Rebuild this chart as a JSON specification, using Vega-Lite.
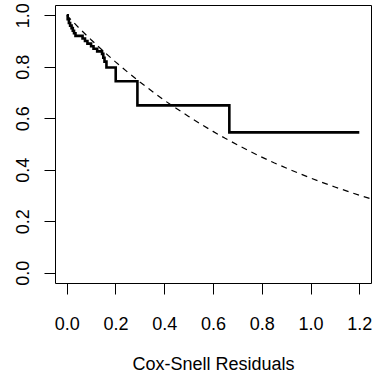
{
  "$schema": "https://vega.github.io/schema/vega-lite/v6.json",
  "width": 316,
  "height": 278,
  "autosize": "none",
  "padding": {"left": 55, "top": 5, "right": 4, "bottom": 95},
  "background": "white",
  "config": {
    "view": {"stroke": "black", "strokeWidth": 1},
    "font": "Liberation Sans",
    "axis": {
      "grid": false,
      "domain": false,
      "tickColor": "black",
      "tickWidth": 1,
      "tickSize": 11,
      "labelColor": "black",
      "labelFont": "Liberation Sans",
      "labelFontSize": 18,
      "titleFont": "Liberation Sans",
      "titleFontSize": 18,
      "titleFontWeight": "normal",
      "titleColor": "black"
    }
  },
  "datasets": {
    "km": [
      {"t": 0, "s": 1.0},
      {"t": 0.004, "s": 0.985},
      {"t": 0.009, "s": 0.97},
      {"t": 0.014, "s": 0.96},
      {"t": 0.02, "s": 0.95},
      {"t": 0.025, "s": 0.94},
      {"t": 0.03, "s": 0.93},
      {"t": 0.036, "s": 0.92},
      {"t": 0.065, "s": 0.91},
      {"t": 0.075, "s": 0.9},
      {"t": 0.085, "s": 0.89},
      {"t": 0.1, "s": 0.88},
      {"t": 0.11, "s": 0.87},
      {"t": 0.125, "s": 0.86},
      {"t": 0.145, "s": 0.85},
      {"t": 0.15, "s": 0.835},
      {"t": 0.155, "s": 0.82},
      {"t": 0.163, "s": 0.797},
      {"t": 0.201, "s": 0.744},
      {"t": 0.29, "s": 0.65},
      {"t": 0.667, "s": 0.545},
      {"t": 1.2, "s": 0.545}
    ],
    "ref": [
      {"t": 0, "s": 1.0},
      {"t": 0.05, "s": 0.951},
      {"t": 0.1, "s": 0.905},
      {"t": 0.15, "s": 0.861},
      {"t": 0.2, "s": 0.819},
      {"t": 0.25, "s": 0.779},
      {"t": 0.3, "s": 0.741},
      {"t": 0.35, "s": 0.705},
      {"t": 0.4, "s": 0.670},
      {"t": 0.45, "s": 0.638},
      {"t": 0.5, "s": 0.607},
      {"t": 0.55, "s": 0.577},
      {"t": 0.6, "s": 0.549},
      {"t": 0.65, "s": 0.522},
      {"t": 0.7, "s": 0.497},
      {"t": 0.75, "s": 0.472},
      {"t": 0.8, "s": 0.449},
      {"t": 0.85, "s": 0.427},
      {"t": 0.9, "s": 0.407},
      {"t": 0.95, "s": 0.387},
      {"t": 1.0, "s": 0.368},
      {"t": 1.05, "s": 0.350},
      {"t": 1.1, "s": 0.333},
      {"t": 1.15, "s": 0.317},
      {"t": 1.2, "s": 0.301},
      {"t": 1.248, "s": 0.287}
    ]
  },
  "layer": [
    {
      "data": {"name": "ref"},
      "mark": {"type": "line", "color": "black", "strokeWidth": 1.2, "strokeDash": [6, 5], "clip": true},
      "encoding": {
        "x": {
          "field": "t", "type": "quantitative",
          "scale": {"domain": [-0.048, 1.248], "nice": false, "zero": false},
          "axis": {"values": [0, 0.2, 0.4, 0.6, 0.8, 1.0, 1.2], "format": ".1f", "labelPadding": 21, "labelBaseline": "top", "labelAlign": "center", "title": "Cox-Snell Residuals", "titlePadding": 22}
        },
        "y": {
          "field": "s", "type": "quantitative",
          "scale": {"domain": [-0.04, 1.04], "nice": false, "zero": false},
          "axis": {"values": [0, 0.2, 0.4, 0.6, 0.8, 1.0], "format": ".1f", "labelAngle": -90, "labelAlign": "center", "labelBaseline": "alphabetic", "labelPadding": 16, "title": null}
        }
      }
    },
    {
      "data": {"name": "km"},
      "mark": {"type": "line", "color": "black", "strokeWidth": 2.6, "interpolate": "step-after", "clip": true},
      "encoding": {
        "x": {"field": "t", "type": "quantitative"},
        "y": {"field": "s", "type": "quantitative"}
      }
    }
  ]
}
